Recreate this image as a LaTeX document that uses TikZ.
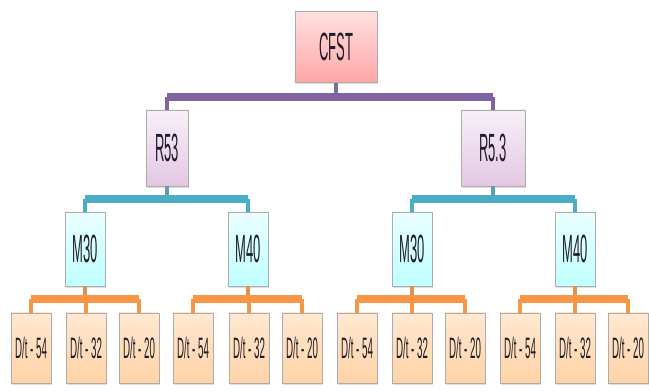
\documentclass[tikz,border=0pt]{standalone}
\usepackage{fontspec}
\setmainfont{Liberation Sans}
\newfontfamily\narrowfont[FakeStretch=0.33]{Liberation Sans}
\usepackage{tikz}
\usetikzlibrary{positioning, shadows}

\definecolor{barpurple}{HTML}{8064A2}
\definecolor{barteal}{HTML}{4BACC6}
\definecolor{barorange}{HTML}{F79646}
\definecolor{txtdark}{HTML}{1E1E28}

\tikzset{
  box/.style={draw=gray!65, line width=0.5pt, inner sep=0pt, text=txtdark,
    font=\narrowfont\fontsize{28}{28}\selectfont,
    drop shadow={opacity=0.25, shadow xshift=0.6pt, shadow yshift=-1.2pt}},
  topbox/.style={box, top color=red!12, bottom color=red!35!white,
    minimum width=2.05cm, minimum height=1.78cm},
  rbox/.style={box, top color=violet!6, bottom color=violet!22,
    minimum height=1.9cm},
  mbox/.style={box, top color=cyan!8, bottom color=cyan!25,
    minimum width=1cm, minimum height=1.85cm},
  leafbox/.style={box, top color=orange!18, bottom color=orange!35,
    minimum width=1cm, minimum height=1.75cm,
    font=\narrowfont\fontsize{21}{21}\selectfont},
  pbar/.style={barpurple, line width=5.5pt},
  tbar/.style={barteal, line width=5pt},
  obar/.style={barorange, line width=5.5pt},
  drop/.style={line width=3pt},
}

\begin{document}
\begin{tikzpicture}[x=0.025cm, y=-0.025cm]
\useasboundingbox (0,0) rectangle (649,392);
% boxes
\node[topbox] (cfst) at (336,47) {CFST};
\node[rbox, minimum width=1.05cm] (r53) at (167,148) {R53};
\node[rbox, minimum width=1.6cm] (r5) at (493,148) {R5.3};
\node[mbox] (m1) at (85,249) {M30};
\node[mbox] (m2) at (248,249) {M40};
\node[mbox] (m3) at (412,249) {M30};
\node[mbox] (m4) at (575,249) {M40};
\foreach \x/\t [count=\i] in {31/54,86/32,139/20,193/54,249/32,302/20,
                              357/54,412/32,465/20,520/54,575/32,628/20}
  \node[leafbox] (d\i) at (\x,348) {D/t - \t};

% first level
\coordinate (pj) at (336,97);
\draw[drop, barpurple!70!gray] (cfst) -- (pj);
\foreach \r in {r53,r5}
  \draw[drop, barpurple] (\r.north |- pj) -- (\r);
\draw[pbar] (r53.north |- pj) -- (r5.north |- pj);

% second level
\foreach \r/\a/\b in {r53/m1/m2, r5/m3/m4}{
  \coordinate (tj) at (\r.south |- 0,199);
  \draw[drop, barteal!70!gray] (\r) -- (tj);
  \draw[drop, barteal] (\a.north |- tj) -- (\a);
  \draw[drop, barteal] (\b.north |- tj) -- (\b);
  \draw[tbar] (\a.north |- tj) -- (\b.north |- tj);
}

% leaves
\foreach \m/\a/\b/\c in {m1/1/2/3, m2/4/5/6, m3/7/8/9, m4/10/11/12}{
  \coordinate (oj) at (\m.south |- 0,299);
  \draw[drop, barorange!80!gray] (\m) -- (oj);
  \foreach \d in {\a,\b,\c}
    \draw[drop, barorange] (d\d.north |- oj) -- (d\d);
  \draw[obar] (d\a.north |- oj) -- (d\c.north |- oj);
}
\end{tikzpicture}
\end{document}
